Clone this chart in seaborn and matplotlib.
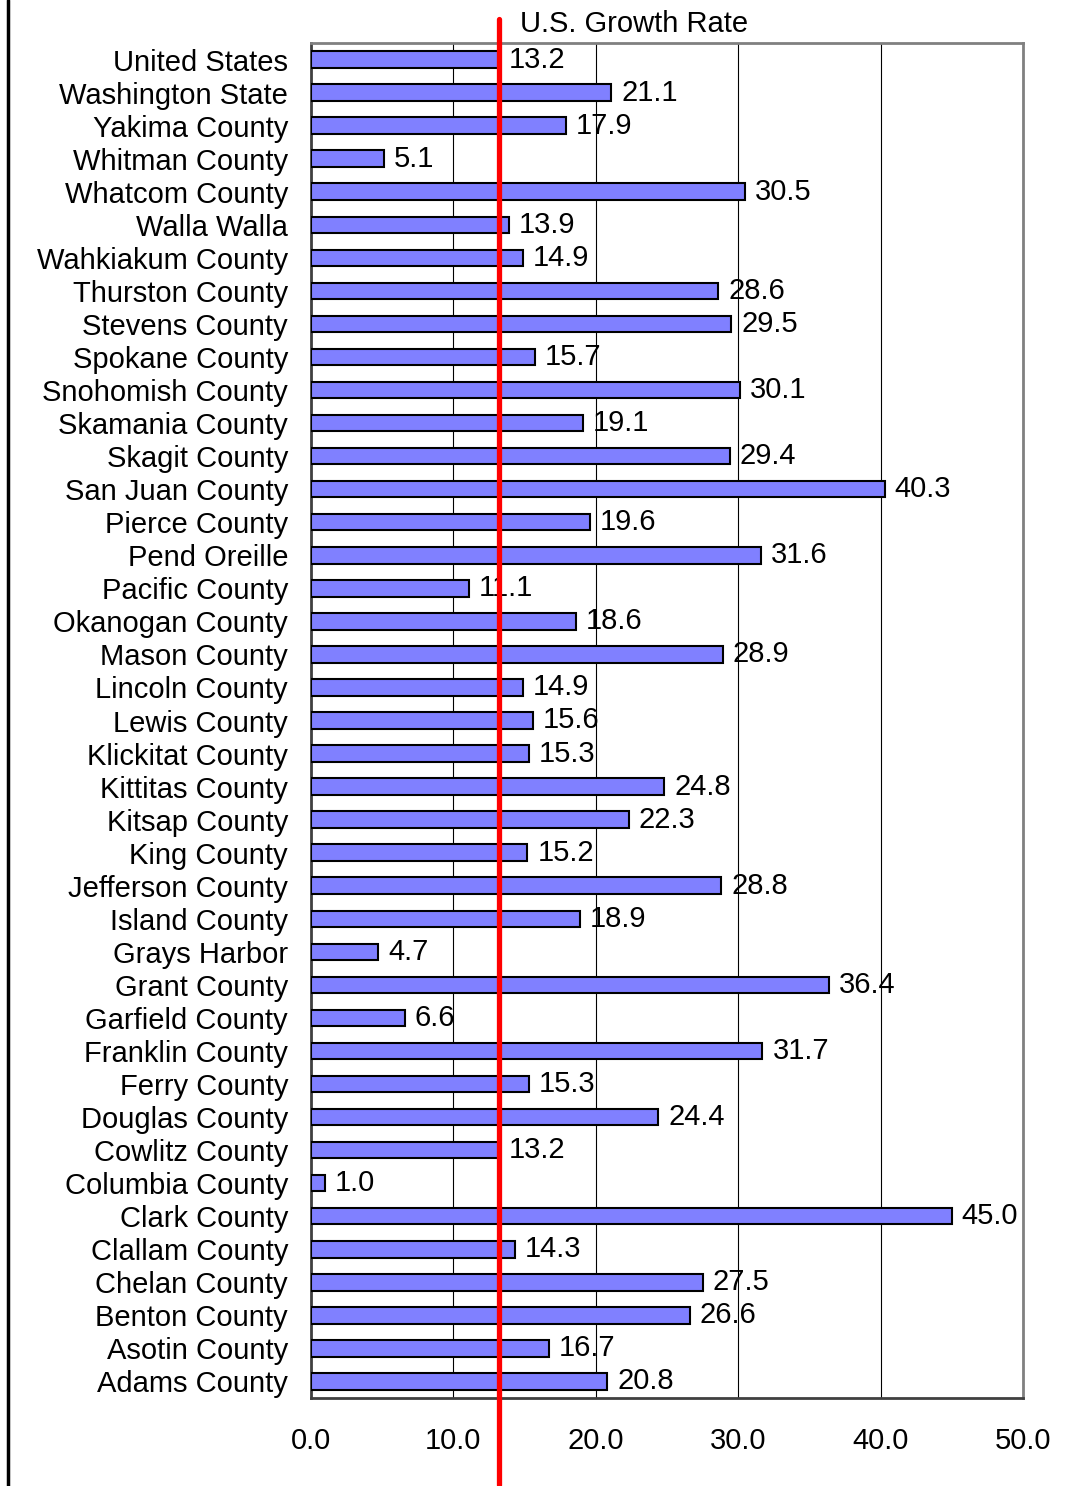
import numpy as np
import pandas as pd
import matplotlib.pyplot as plt
import seaborn as sns
from matplotlib.lines import Line2D
from matplotlib.ticker import FixedLocator

regions = ["United States", "Washington State", "Yakima County", "Whitman County",
           "Whatcom County", "Walla Walla", "Wahkiakum County", "Thurston County",
           "Stevens County", "Spokane County", "Snohomish County", "Skamania County",
           "Skagit County", "San Juan County", "Pierce County", "Pend Oreille",
           "Pacific County", "Okanogan County", "Mason County", "Lincoln County",
           "Lewis County", "Klickitat County", "Kittitas County", "Kitsap County",
           "King County", "Jefferson County", "Island County", "Grays Harbor",
           "Grant County", "Garfield County", "Franklin County", "Ferry County",
           "Douglas County", "Cowlitz County", "Columbia County", "Clark County",
           "Clallam County", "Chelan County", "Benton County", "Asotin County",
           "Adams County"]
growth = [13.2, 21.1, 17.9, 5.1, 30.5, 13.9, 14.9, 28.6, 29.5, 15.7, 30.1, 19.1,
          29.4, 40.3, 19.6, 31.6, 11.1, 18.6, 28.9, 14.9, 15.6, 15.3, 24.8, 22.3,
          15.2, 28.8, 18.9, 4.7, 36.4, 6.6, 31.7, 15.3, 24.4, 13.2, 1.0, 45.0,
          14.3, 27.5, 26.6, 16.7, 20.8]
us_rate = 13.2
x_ticks = [0, 10, 20, 30, 40, 50]

df = pd.DataFrame({"region": regions, "growth": growth})

sns.set_style("white")
plt.rcParams["font.family"] = ["Liberation Sans", "DejaVu Sans"]
plt.rcParams["text.color"] = "black"
plt.rcParams["xtick.color"] = "black"
plt.rcParams["ytick.color"] = "black"

FS = 21

fig = plt.figure(figsize=(10.73, 14.86), dpi=100)
ax = fig.add_axes([311 / 1073, 1 - 1398 / 1486, 712 / 1073, 1355 / 1486])

sns.barplot(data=df, x="growth", y="region", orient="h", color="#8080FF",
            saturation=1, width=0.5, edgecolor="black", linewidth=1.5, ax=ax, zorder=3)

ax.set_xlim(0, 50)
ax.set_ylim(len(regions) - 0.5, -0.5)
ax.set_xticks(x_ticks)
ax.set_xticklabels([f"{t:.1f}" for t in x_ticks], fontsize=FS)
ax.set_xlabel(""); ax.set_ylabel("")
ax.tick_params(axis="x", length=7, width=1.5, color="#404040", pad=14, direction="out")
ax.tick_params(axis="y", which="major", length=0, pad=16.5, labelsize=FS)
ax.yaxis.set_minor_locator(FixedLocator(np.arange(-0.5, len(regions), 1)))
ax.tick_params(axis="y", which="minor", length=6, width=1.2, color="#404040", direction="out")
ax.grid(axis="x", color="black", linewidth=0.8, zorder=0)
ax.set_axisbelow(True)

for side in ["top", "right"]:
    ax.spines[side].set_color("#808080")
    ax.spines[side].set_linewidth(2)
for side in ["left", "bottom"]:
    ax.spines[side].set_color("#404040")
    ax.spines[side].set_linewidth(2)
    ax.spines[side].set_visible(True)

for i, v in enumerate(growth):
    ax.text(v + 0.7, i, f"{v:.1f}", va="center", ha="left", fontsize=FS, zorder=4)

ax.axvline(us_rate, ymin=-0.064, ymax=1.018, color="#FF0000", linewidth=3.8,
           clip_on=False, zorder=5)
fig.text(520 / 1073, 1 - 24 / 1486, "U.S. Growth Rate", fontsize=FS, va="center", ha="left")

fig.add_artist(Line2D([7.5 / 1073, 7.5 / 1073], [0, 1], color="black", linewidth=2.5,
                      transform=fig.transFigure))

fig.savefig("out.png", dpi=100)
